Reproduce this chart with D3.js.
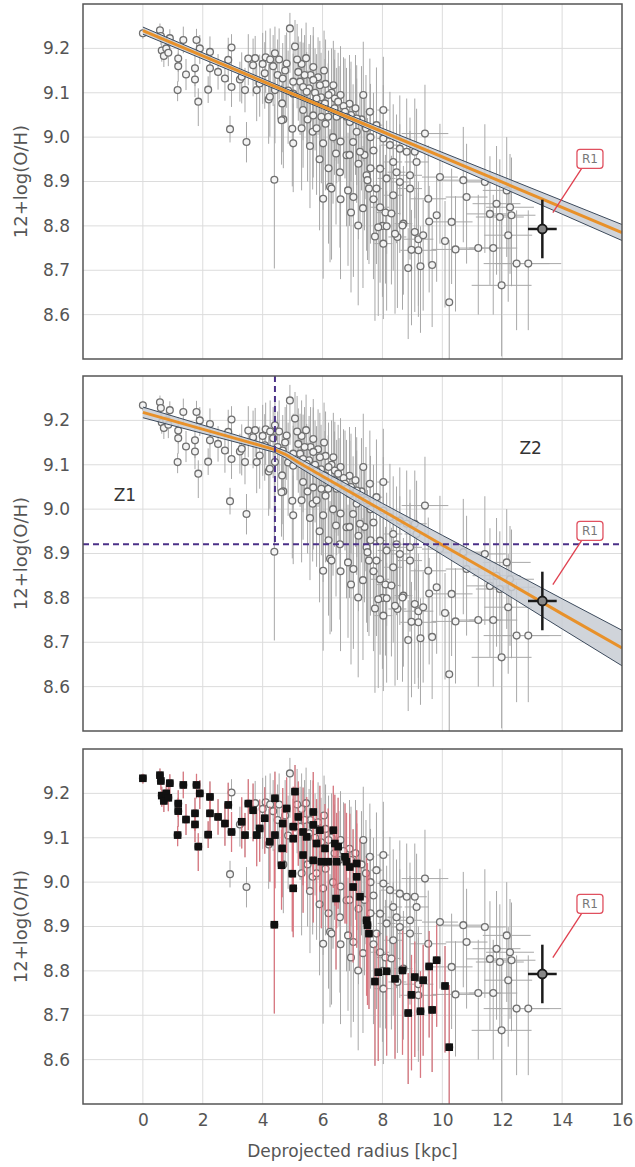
<!DOCTYPE html>
<html>
<head>
<meta charset="utf-8">
<script src="https://cdn.jsdelivr.net/npm/d3@7"></script>
<style>
  body { margin: 0; background: white; }
  svg text { font-family: "DejaVu Sans", sans-serif; }
</style>
</head>
<body>
<svg class="gradient-chart" width="635" height="1167"></svg>
<script>
// tick values
const xTicks = [0, 2, 4, 6, 8, 10, 12, 14, 16];
const yTicks = [8.6, 8.7, 8.8, 8.9, 9.0, 9.1, 9.2];

// HII regions that enter the restricted sample (black squares, bottom panel)
// [radius kpc, 12+log(O/H), err low, err high, err radius]
const fitRegions = [
  [0.00, 9.234, 0.012, 0.010, 0], [0.57, 9.241, 0.020, 0.015, 0], [0.60, 9.228, 0.020, 0.020, 0],
  [0.63, 9.195, 0.025, 0.020, 0], [0.70, 9.183, 0.025, 0.025, 0], [0.78, 9.200, 0.020, 0.020, 0],
  [0.90, 9.223, 0.025, 0.020, 0], [0.85, 9.190, 0.030, 0.025, 0], [1.18, 9.177, 0.030, 0.030, 0],
  [1.18, 9.160, 0.035, 0.030, 0], [1.35, 9.219, 0.030, 0.030, 0], [1.16, 9.106, 0.025, 0.020, 0],
  [1.44, 9.141, 0.035, 0.035, 0], [1.74, 9.155, 0.040, 0.035, 0], [1.74, 9.130, 0.040, 0.035, 0],
  [1.79, 9.219, 0.030, 0.025, 0], [1.90, 9.200, 0.035, 0.030, 0], [1.85, 9.080, 0.055, 0.030, 0],
  [2.18, 9.107, 0.030, 0.030, 0], [2.24, 9.192, 0.040, 0.035, 0], [2.24, 9.155, 0.045, 0.040, 0],
  [2.51, 9.147, 0.040, 0.040, 0], [2.74, 9.132, 0.050, 0.045, 0], [2.85, 9.174, 0.050, 0.050, 0],
  [2.96, 9.113, 0.045, 0.045, 0], [3.30, 9.136, 0.060, 0.055, 0], [3.41, 9.106, 0.050, 0.050, 0],
  [3.52, 9.177, 0.060, 0.055, 0], [3.80, 9.106, 0.070, 0.060, 0], [3.68, 9.162, 0.070, 0.060, 0],
  [4.07, 9.144, 0.080, 0.070, 0], [3.90, 9.121, 0.075, 0.065, 0], [4.24, 9.091, 0.090, 0.080, 0],
  [4.41, 9.106, 0.120, 0.080, 0], [4.41, 9.189, 0.090, 0.060, 0], [4.67, 9.132, 0.100, 0.080, 0],
  [4.80, 9.166, 0.100, 0.070, 0], [5.02, 9.125, 0.110, 0.090, 0], [5.02, 9.098, 0.120, 0.090, 0],
  [5.08, 9.204, 0.090, 0.060, 0], [5.19, 9.147, 0.110, 0.080, 0], [4.65, 9.076, 0.110, 0.090, 0],
  [4.63, 9.038, 0.100, 0.080, 0], [4.99, 9.019, 0.130, 0.100, 0], [5.02, 8.986, 0.110, 0.090, 0],
  [4.39, 8.904, 0.200, 0.170, 0], [5.35, 9.113, 0.120, 0.100, 0], [5.35, 9.061, 0.130, 0.100, 0],
  [5.47, 9.102, 0.120, 0.090, 0], [5.69, 9.158, 0.130, 0.090, 0], [5.69, 9.129, 0.120, 0.100, 0],
  [5.69, 9.049, 0.140, 0.110, 0], [5.80, 9.087, 0.130, 0.100, 0], [5.91, 9.117, 0.140, 0.100, 0],
  [5.96, 9.046, 0.150, 0.110, 0], [6.08, 9.076, 0.140, 0.100, 0], [6.19, 9.046, 0.150, 0.120, 0],
  [6.36, 9.117, 0.130, 0.100, 0], [6.41, 9.087, 0.140, 0.110, 0], [6.47, 9.046, 0.150, 0.110, 0],
  [6.52, 9.080, 0.140, 0.110, 0], [6.45, 8.963, 0.160, 0.120, 0], [6.75, 9.057, 0.150, 0.120, 0],
  [6.80, 9.046, 0.140, 0.110, 0], [6.91, 9.034, 0.160, 0.120, 0], [7.14, 9.042, 0.150, 0.120, 0],
  [7.14, 9.012, 0.160, 0.120, 0], [7.02, 8.989, 0.170, 0.130, 0], [7.25, 8.967, 0.160, 0.130, 0],
  [7.47, 8.914, 0.170, 0.140, 0], [7.50, 8.903, 0.180, 0.140, 0], [7.55, 8.884, 0.170, 0.140, 0],
  [7.75, 8.776, 0.190, 0.080, 0], [7.86, 8.797, 0.200, 0.090, 0], [8.14, 8.799, 0.190, 0.080, 0],
  [8.42, 8.782, 0.180, 0.080, 0], [8.67, 8.801, 0.190, 0.090, 0], [9.08, 8.786, 0.180, 0.080, 0],
  [9.36, 8.779, 0.170, 0.080, 0], [9.56, 8.810, 0.160, 0.080, 0], [9.81, 8.824, 0.150, 0.080, 0],
  [8.97, 8.746, 0.170, 0.090, 0], [8.86, 8.705, 0.160, 0.090, 0], [9.27, 8.709, 0.150, 0.090, 0],
  [9.66, 8.712, 0.140, 0.090, 0], [10.09, 8.766, 0.150, 0.090, 0], [10.23, 8.628, 0.150, 0.140, 0]
];

// remaining HII regions (open circles only)
const otherRegions = [
  [2.91, 9.018, 0.030, 0.030, 0], [3.46, 8.989, 0.046, 0.045, 0], [2.96, 9.202, 0.040, 0.030, 0],
  [3.24, 9.130, 0.050, 0.040, 0], [3.75, 9.178, 0.060, 0.050, 0], [4.10, 9.180, 0.080, 0.060, 0],
  [4.35, 9.160, 0.090, 0.070, 0], [4.91, 9.245, 0.100, 0.035, 0], [4.55, 9.175, 0.090, 0.070, 0],
  [4.20, 9.085, 0.100, 0.080, 0], [4.69, 9.040, 0.110, 0.090, 0], [5.30, 9.165, 0.110, 0.080, 0],
  [5.45, 9.178, 0.110, 0.080, 0], [5.60, 9.140, 0.120, 0.090, 0], [5.85, 9.135, 0.130, 0.090, 0],
  [6.10, 9.120, 0.130, 0.100, 0], [6.30, 9.100, 0.140, 0.100, 0], [6.60, 9.095, 0.140, 0.110, 0],
  [6.90, 9.075, 0.150, 0.110, 0], [5.58, 8.980, 0.140, 0.110, 0], [5.67, 9.012, 0.130, 0.100, 0],
  [6.02, 8.986, 0.150, 0.110, 0], [6.25, 8.888, 0.170, 0.130, 0], [6.02, 8.861, 0.180, 0.130, 0],
  [6.30, 8.884, 0.160, 0.130, 0], [6.58, 8.921, 0.170, 0.130, 0], [6.80, 8.959, 0.160, 0.120, 0],
  [6.85, 8.880, 0.170, 0.130, 0], [7.03, 8.865, 0.180, 0.130, 0], [7.19, 8.801, 0.180, 0.140, 0.15],
  [7.36, 9.095, 0.150, 0.120, 0.10], [7.58, 9.057, 0.160, 0.120, 0.15], [7.80, 9.027, 0.160, 0.130, 0.20],
  [8.03, 9.061, 0.150, 0.120, 0.20], [8.03, 8.997, 0.160, 0.120, 0.20], [8.25, 8.982, 0.150, 0.120, 0.30],
  [8.58, 8.974, 0.150, 0.120, 0.30], [8.81, 8.967, 0.160, 0.120, 0.30], [9.08, 8.967, 0.150, 0.120, 0.40],
  [9.14, 8.944, 0.150, 0.120, 0.40], [8.36, 8.944, 0.160, 0.130, 0.30], [7.92, 8.929, 0.170, 0.130, 0.20],
  [8.47, 8.921, 0.160, 0.130, 0.30], [8.92, 8.914, 0.160, 0.130, 0.40], [8.14, 8.907, 0.170, 0.130, 0.30],
  [8.58, 8.899, 0.160, 0.130, 0.30], [7.80, 8.884, 0.170, 0.130, 0.20], [8.92, 8.884, 0.160, 0.130, 0.40],
  [7.92, 8.842, 0.170, 0.140, 0.30], [8.36, 8.869, 0.170, 0.130, 0.30], [8.03, 8.760, 0.170, 0.140, 0.30],
  [9.42, 9.008, 0.140, 0.110, 0.78], [9.92, 8.910, 0.150, 0.120, 0.60], [10.70, 8.903, 0.140, 0.120, 0.70],
  [11.42, 8.899, 0.160, 0.130, 0.70], [9.53, 8.861, 0.150, 0.120, 0.60], [10.81, 8.865, 0.150, 0.120, 0.70],
  [10.31, 8.809, 0.140, 0.120, 0.70], [12.15, 8.880, 0.150, 0.120, 0.80], [11.81, 8.850, 0.160, 0.130, 0.80],
  [12.26, 8.842, 0.150, 0.120, 0.80], [11.59, 8.827, 0.160, 0.130, 0.80], [11.92, 8.820, 0.150, 0.130, 0.80],
  [12.31, 8.824, 0.160, 0.130, 0.80], [12.20, 8.779, 0.150, 0.120, 0.80], [9.20, 8.745, 0.150, 0.130, 0.60],
  [10.44, 8.747, 0.140, 0.120, 0.80], [11.20, 8.750, 0.150, 0.120, 0.80], [11.70, 8.750, 0.150, 0.120, 0.80],
  [12.48, 8.715, 0.150, 0.120, 1.10], [12.87, 8.715, 0.150, 0.120, 1.10], [11.98, 8.666, 0.160, 0.160, 1.00],
  [8.50, 8.775, 0.160, 0.130, 0.30], [8.10, 8.830, 0.160, 0.130, 0.30], [8.30, 8.828, 0.160, 0.130, 0.30],
  [9.20, 8.770, 0.150, 0.130, 0.50], [8.00, 8.800, 0.160, 0.130, 0.30], [8.70, 8.805, 0.160, 0.130, 0.30],
  [4.00, 9.165, 0.090, 0.070, 0], [4.25, 9.175, 0.090, 0.070, 0], [4.50, 9.140, 0.100, 0.080, 0],
  [4.75, 9.150, 0.110, 0.080, 0], [4.85, 9.105, 0.120, 0.090, 0], [5.15, 9.175, 0.110, 0.080, 0],
  [5.25, 9.125, 0.120, 0.090, 0], [5.40, 9.140, 0.120, 0.090, 0], [5.55, 9.110, 0.130, 0.100, 0],
  [5.75, 9.100, 0.130, 0.100, 0], [5.95, 9.090, 0.140, 0.100, 0], [6.05, 9.150, 0.130, 0.090, 0],
  [6.20, 9.095, 0.140, 0.100, 0], [6.40, 9.065, 0.150, 0.110, 0], [6.55, 9.050, 0.150, 0.110, 0],
  [6.70, 9.070, 0.150, 0.110, 0], [6.95, 9.050, 0.150, 0.120, 0], [7.10, 9.065, 0.150, 0.120, 0],
  [7.30, 9.040, 0.160, 0.120, 0], [7.45, 9.020, 0.160, 0.120, 0], [7.60, 9.000, 0.160, 0.120, 0.10],
  [7.70, 8.970, 0.170, 0.130, 0.10], [5.30, 9.020, 0.140, 0.110, 0], [5.50, 9.040, 0.140, 0.110, 0],
  [5.80, 9.020, 0.150, 0.110, 0], [6.10, 9.030, 0.150, 0.110, 0], [6.35, 9.000, 0.150, 0.120, 0],
  [6.60, 8.990, 0.160, 0.120, 0], [6.90, 8.960, 0.160, 0.120, 0], [7.20, 8.940, 0.170, 0.130, 0],
  [7.40, 8.960, 0.170, 0.130, 0], [5.90, 8.950, 0.160, 0.120, 0], [6.20, 8.930, 0.170, 0.130, 0],
  [7.60, 8.930, 0.170, 0.130, 0.15], [7.70, 8.860, 0.180, 0.130, 0.15], [6.60, 8.860, 0.180, 0.130, 0],
  [6.95, 8.830, 0.180, 0.140, 0], [7.35, 8.840, 0.180, 0.140, 0.10]
];

// region R1 [radius, 12+log(O/H), err low, err high, err radius]
const r1 = [13.34, 8.793, 0.066, 0.066, 0.48];

// single linear fit (top panel)
const fit1X = [0, 6, 16];
const fit1Y = [9.240, 9.069, 8.785];
const fit1Half = [0.008, 0.005, 0.018];

// broken fit (middle panel)
const fit2X = [0, 4, 4.4, 4.8, 5.2, 6, 8, 10, 12, 14, 16];
const fit2Y = [9.218, 9.142, 9.134, 9.122, 9.105, 9.074, 8.997, 8.919, 8.842, 8.764, 8.687];
const fit2Half = [0.012, 0.007, 0.006, 0.008, 0.010, 0.012, 0.016, 0.022, 0.028, 0.034, 0.040];

// break radius and break metallicity
const breakR = 4.41;
const breakOH = 8.921;

const left = 83, right = 622;
const panelTops = [4, 376, 749];
const panelH = 355;
const axisColor = "#555";
const gridColor = "#dcdcdc";

const svg = d3.select("svg.gradient-chart");
const x = d3.scaleLinear().domain([-2, 16]).range([left, right]);
const allRegions = otherRegions.concat(fitRegions);

function drawPanel(i) {
  const top = panelTops[i];
  const y = d3.scaleLinear().domain([8.5, 9.3]).range([top + panelH, top]);
  const g = svg.append("g").attr("class", "panel-" + i);

  const defs = g.append("defs");
  defs.append("clipPath").attr("id", "clip" + i)
    .append("rect")
    .attr("x", left).attr("y", top)
    .attr("width", right - left).attr("height", panelH);

  // grid
  g.append("g").selectAll("line.vgrid")
    .data(xTicks.slice(0, -1))
    .join("line")
    .attr("x1", (d) => x(d)).attr("x2", (d) => x(d))
    .attr("y1", top).attr("y2", top + panelH)
    .attr("stroke", gridColor).attr("stroke-width", 1);
  g.append("g").selectAll("line.hgrid")
    .data(yTicks)
    .join("line")
    .attr("x1", left).attr("x2", right)
    .attr("y1", (d) => y(d)).attr("y2", (d) => y(d))
    .attr("stroke", gridColor).attr("stroke-width", 1);

  const plot = g.append("g").attr("clip-path", "url(#clip" + i + ")");

  // grey error bars
  const bars = plot.append("g").attr("stroke", "#a8a8a8").attr("stroke-width", 1);
  bars.selectAll("line.ey")
    .data(allRegions)
    .join("line")
    .attr("x1", (d) => x(d[0])).attr("x2", (d) => x(d[0]))
    .attr("y1", (d) => y(d[1] - d[2])).attr("y2", (d) => y(d[1] + d[3]));
  bars.selectAll("line.ex")
    .data(allRegions.filter((d) => d[4] > 0))
    .join("line")
    .attr("x1", (d) => x(d[0] - d[4])).attr("x2", (d) => x(d[0] + d[4]))
    .attr("y1", (d) => y(d[1])).attr("y2", (d) => y(d[1]));

  plot.append("g").selectAll("circle")
    .data(allRegions)
    .join("circle")
    .attr("cx", (d) => x(d[0])).attr("cy", (d) => y(d[1]))
    .attr("r", 3.4)
    .attr("fill", "#f4f4f4")
    .attr("stroke", "#707070")
    .attr("stroke-width", 1.3);

  if (i === 2) {
    plot.append("g").attr("stroke", "#e0707a").attr("stroke-opacity", 0.85).attr("stroke-width", 1.3)
      .selectAll("line")
      .data(fitRegions)
      .join("line")
      .attr("x1", (d) => x(d[0])).attr("x2", (d) => x(d[0]))
      .attr("y1", (d) => y(d[1] - d[2])).attr("y2", (d) => y(d[1] + d[3]));
    plot.append("g").selectAll("rect")
      .data(fitRegions)
      .join("rect")
      .attr("x", (d) => x(d[0]) - 3.8).attr("y", (d) => y(d[1]) - 3.8)
      .attr("width", 7.6).attr("height", 7.6)
      .attr("fill", "#111");
  } else {
    const fx = i === 0 ? fit1X : fit2X;
    const fy = i === 0 ? fit1Y : fit2Y;
    const fh = i === 0 ? fit1Half : fit2Half;
    const band = fx.map((d, k) => ({ r: d, oh: fy[k], h: fh[k] }));
    plot.append("path")
      .datum(band)
      .attr("d", d3.area().x((d) => x(d.r)).y0((d) => y(d.oh - d.h)).y1((d) => y(d.oh + d.h)))
      .attr("fill", "#c8ccd3").attr("fill-opacity", 0.85);
    [-1, 1].forEach((s) => {
      plot.append("path")
        .datum(band)
        .attr("d", d3.line().x((d) => x(d.r)).y((d) => y(d.oh + s * d.h)))
        .attr("fill", "none").attr("stroke", "#3c4a5c").attr("stroke-width", 1);
    });
    plot.append("path")
      .datum(band)
      .attr("d", d3.line().x((d) => x(d.r)).y((d) => y(d.oh)))
      .attr("fill", "none").attr("stroke", "#e8912a").attr("stroke-width", 3);
  }

  if (i === 1) {
    const dash = { stroke: "#4b3088", width: 2, dash: "6,4" };
    plot.append("line")
      .attr("x1", x(breakR)).attr("x2", x(breakR))
      .attr("y1", top).attr("y2", y(breakOH))
      .attr("stroke", dash.stroke).attr("stroke-width", dash.width).attr("stroke-dasharray", dash.dash);
    plot.append("line")
      .attr("x1", left).attr("x2", right)
      .attr("y1", y(breakOH)).attr("y2", y(breakOH))
      .attr("stroke", dash.stroke).attr("stroke-width", dash.width).attr("stroke-dasharray", dash.dash);
    g.append("text").attr("x", x(-0.6)).attr("y", y(9.03))
      .attr("text-anchor", "middle").attr("dominant-baseline", "middle")
      .attr("font-size", 17).attr("fill", "#333").text("Z1");
    g.append("text").attr("x", x(12.95)).attr("y", y(9.135))
      .attr("text-anchor", "middle").attr("dominant-baseline", "middle")
      .attr("font-size", 17).attr("fill", "#333").text("Z2");
  }

  // R1
  const r1g = g.append("g").attr("stroke", "#1a1a1a");
  r1g.append("line")
    .attr("x1", x(r1[0])).attr("x2", x(r1[0]))
    .attr("y1", y(r1[1] - r1[2])).attr("y2", y(r1[1] + r1[3]))
    .attr("stroke-width", 2.5);
  r1g.append("line")
    .attr("x1", x(r1[0] - r1[4])).attr("x2", x(r1[0] + r1[4]))
    .attr("y1", y(r1[1])).attr("y2", y(r1[1]))
    .attr("stroke-width", 2.5);
  r1g.append("circle")
    .attr("cx", x(r1[0])).attr("cy", y(r1[1])).attr("r", 4.5)
    .attr("fill", "#888").attr("stroke-width", 1.8);

  g.append("line")
    .attr("x1", x(14.66)).attr("y1", y(8.93))
    .attr("x2", x(13.69)).attr("y2", y(8.83))
    .attr("stroke", "#e0404f").attr("stroke-width", 1.3);
  g.append("rect")
    .attr("x", x(14.93) - 13).attr("y", y(8.951) - 9.5)
    .attr("width", 26).attr("height", 19).attr("rx", 3)
    .attr("fill", "white").attr("stroke", "#e0505f").attr("stroke-width", 1.3);
  g.append("text")
    .attr("x", x(14.93)).attr("y", y(8.951))
    .attr("text-anchor", "middle").attr("dominant-baseline", "central")
    .attr("font-size", 12).attr("fill", "#777").text("R1");

  // frame
  g.append("rect")
    .attr("x", left).attr("y", top)
    .attr("width", right - left).attr("height", panelH)
    .attr("fill", "none").attr("stroke", axisColor).attr("stroke-width", 1.5);

  // y axis
  const yAxis = g.append("g")
    .attr("transform", "translate(" + left + ",0)")
    .call(d3.axisLeft(y).tickValues(yTicks).tickFormat(d3.format(".1f")).tickSize(0).tickPadding(13));
  yAxis.select(".domain").remove();
  yAxis.selectAll("text").attr("font-size", 17).attr("fill", axisColor).attr("font-family", "DejaVu Sans");

  g.append("text")
    .attr("transform", "translate(22," + (top + panelH / 2) + ") rotate(-90)")
    .attr("text-anchor", "middle").attr("dominant-baseline", "middle")
    .attr("font-size", 18).attr("fill", axisColor)
    .text("12+log(O/H)");

  if (i === 2) {
    const xAxis = g.append("g")
      .attr("transform", "translate(0," + (top + panelH) + ")")
      .call(d3.axisBottom(x).tickValues(xTicks).tickSize(0).tickPadding(10));
    xAxis.select(".domain").remove();
    xAxis.selectAll("text").attr("font-size", 17).attr("fill", axisColor).attr("font-family", "DejaVu Sans");
    g.append("text")
      .attr("x", (left + right) / 2).attr("y", 1152)
      .attr("text-anchor", "middle").attr("dominant-baseline", "middle")
      .attr("font-size", 17).attr("fill", axisColor)
      .text("Deprojected radius [kpc]");
  }
}

[0, 1, 2].forEach(drawPanel);
</script>
</body>
</html>
